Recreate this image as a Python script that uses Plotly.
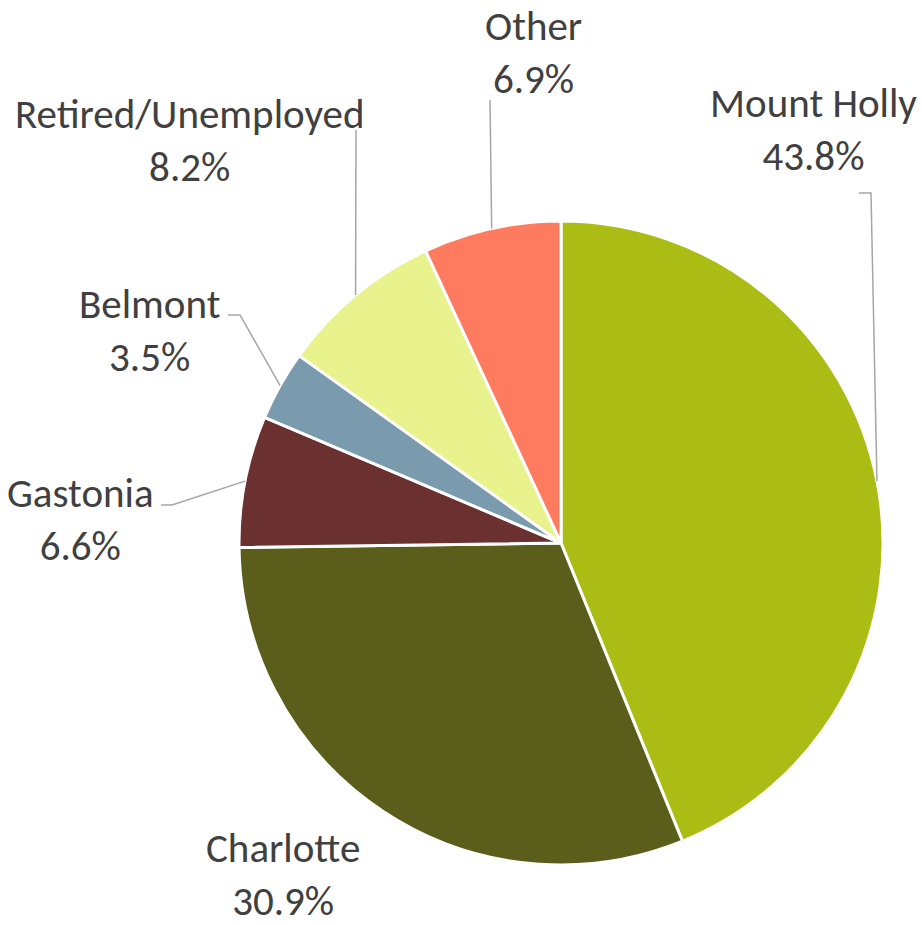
import math
import plotly.graph_objects as go

labels = ["Mount Holly", "Charlotte", "Gastonia", "Belmont", "Retired/Unemployed", "Other"]
values = [43.8, 30.9, 6.6, 3.5, 8.2, 6.9]
colors = ["#ABBC14", "#5A5E1A", "#6B3131", "#7A9AAE", "#E8F38E", "#FF7B5F"]

W, H = 922, 925
CX, CY, R = 561, 543, 322

# label block centers (pixels) and leader elbow points (pixels) per slice
label_pos = {
    "Mount Holly": (813, 129),
    "Charlotte": (283, 874),
    "Gastonia": (80, 519),
    "Belmont": (150, 330),
    "Retired/Unemployed": (189, 140),
    "Other": (533, 53),
}
leader_elbows = {
    "Mount Holly": [(859, 193), (871, 193)],
    "Gastonia": [(161, 505), (172, 505)],
    "Belmont": [(228, 315), (240, 315)],
    "Retired/Unemployed": [(356, 130)],
    "Other": [(490, 100)],
}

def px(x, y):
    return x / W, 1 - y / H

fig = go.Figure(go.Pie(
    labels=labels, values=values, sort=False, direction="clockwise", rotation=0,
    marker=dict(colors=colors, line=dict(color="white", width=3)),
    textinfo="none", hoverinfo="label+percent", showlegend=False,
    domain=dict(x=[(CX - R) / W, (CX + R) / W], y=[1 - (CY + R) / H, 1 - (CY - R) / H]),
))

total = sum(values)
cum = 0.0
font = dict(family="Carlito, Lato, sans-serif", size=41, color="#404040")
for lab, v in zip(labels, values):
    mid = (cum + v / 2) / total * 2 * math.pi
    cum += v
    ex = CX + R * math.sin(mid)
    ey = CY - R * math.cos(mid)
    lx, ly = label_pos[lab]
    ax, ay = px(lx, ly)
    fig.add_annotation(x=ax, y=ay, xref="paper", yref="paper", showarrow=False,
                       text=f"{lab}<br>{v:.1f}%", font=font, align="center",
                       xanchor="center", yanchor="middle", borderpad=0)
    if lab in leader_elbows:
        pts = leader_elbows[lab] + [(ex, ey)]
        path = "M " + " L ".join(f"{px(x, y)[0]},{px(x, y)[1]}" for x, y in pts)
        fig.add_shape(type="path", path=path, xref="paper", yref="paper",
                      line=dict(color="#A6A6A6", width=1.5))

fig.update_layout(width=W, height=H, margin=dict(l=0, r=0, t=0, b=0),
                  paper_bgcolor="white", plot_bgcolor="white")
fig.write_html("out.html", config={"displayModeBar": False},
               post_script="document.body.style.margin='0';document.body.style.overflow='hidden';")
